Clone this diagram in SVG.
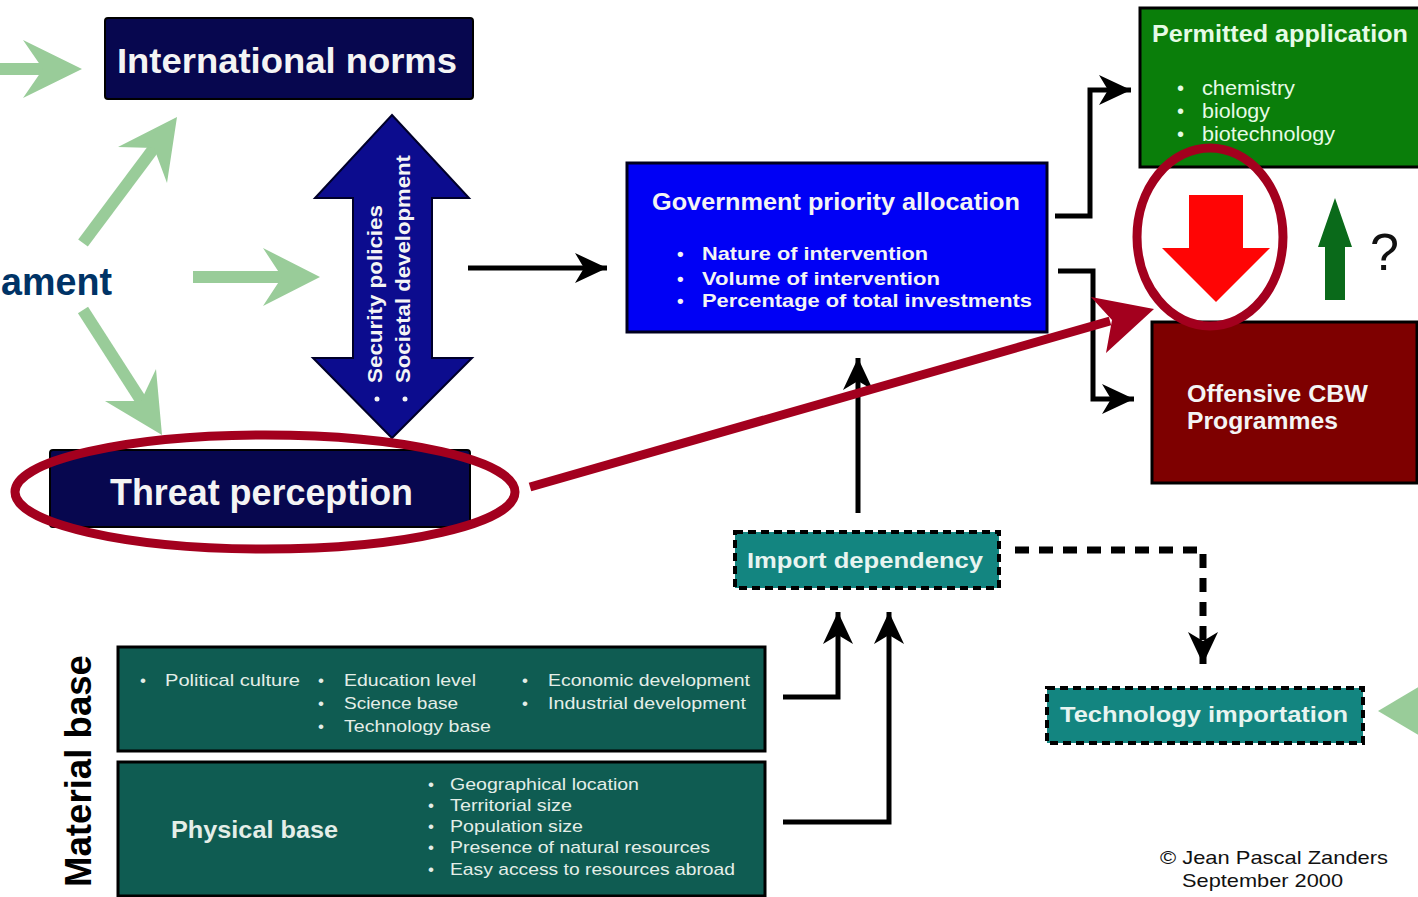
<svg xmlns="http://www.w3.org/2000/svg" width="1418" height="897" viewBox="0 0 1418 897">
<style>
.t{font-family:"Liberation Sans",Arial,sans-serif;}
.b{font-weight:bold;}
.w{fill:#f4f4f4;}
.navy{fill:#07074f;stroke:#000000;stroke-width:2;}
.teal{fill:#0f5c52;stroke:#000000;stroke-width:3;}
.imp{fill:#138580;stroke:#000000;stroke-width:4;stroke-dasharray:8 5;}
.blk{fill:none;stroke:#000;stroke-width:5;}
.grn{stroke:#99cc99;stroke-width:12;fill:none;}
.grnh{fill:#99cc99;}
.ring{fill:none;stroke:#a3001e;stroke-width:9;}
</style>
<defs>
<marker id="ah" markerUnits="userSpaceOnUse" markerWidth="34" markerHeight="32" refX="32" refY="15" orient="auto" viewBox="0 0 34 32">
<path d="M0,0 L32,15 L0,30 L9,15 z" fill="#000"/>
</marker>
</defs>
<rect width="1418" height="897" fill="#ffffff"/>

<g id="label-ament">
<text class="t b" x="1" y="295" font-size="39" fill="#003366" textLength="111" lengthAdjust="spacingAndGlyphs">ament</text>
</g>

<g id="material-base-label">
<text class="t b" font-size="36" fill="#000" transform="translate(91,887) rotate(-90)" textLength="232" lengthAdjust="spacingAndGlyphs">Material base</text>
</g>

<g id="international-norms">
<rect class="navy" x="105" y="18" width="368" height="81" rx="3"/>
<text class="t b w" x="117" y="73" font-size="35" textLength="340" lengthAdjust="spacingAndGlyphs">International norms</text>
</g>

<g id="security-arrow">
<polygon points="392,115 469,198 432,198 432,358 472,358 392,438 313,358 353,358 353,198 315,198" fill="#0c0c8e" stroke="#00002a" stroke-width="2"/>
<text class="t b w" font-size="20" transform="translate(382,383) rotate(-90)" textLength="178" lengthAdjust="spacingAndGlyphs">Security policies</text>
<text class="t b w" font-size="20" transform="translate(410,383) rotate(-90)" textLength="228" lengthAdjust="spacingAndGlyphs">Societal development</text>
<circle cx="377" cy="399" r="2.5" fill="#f4f4f4"/>
<circle cx="405" cy="399" r="2.5" fill="#f4f4f4"/>
</g>

<g id="threat-perception">
<rect class="navy" x="50" y="450" width="420" height="77" rx="3"/>
<text class="t b w" x="110" y="505" font-size="36" textLength="303" lengthAdjust="spacingAndGlyphs">Threat perception</text>
</g>

<g id="government">
<rect x="627" y="163" width="420" height="169" fill="#0000f5" stroke="#000020" stroke-width="3"/>
<text class="t b w" x="652" y="210" font-size="24" textLength="368" lengthAdjust="spacingAndGlyphs">Government priority allocation</text>
<g class="t b w" font-size="19">
<text x="677" y="260">•</text>
<text x="702" y="260" textLength="226" lengthAdjust="spacingAndGlyphs">Nature of intervention</text>
<text x="677" y="285">•</text>
<text x="702" y="285" textLength="238" lengthAdjust="spacingAndGlyphs">Volume of intervention</text>
<text x="677" y="307">•</text>
<text x="702" y="307" textLength="330" lengthAdjust="spacingAndGlyphs">Percentage of total investments</text>
</g>
</g>

<g id="permitted-application">
<rect x="1140" y="8" width="290" height="159" fill="#0a7e0a" stroke="#000" stroke-width="3"/>
<text class="t b" x="1152" y="42" font-size="24" fill="#e6fbe6" textLength="256" lengthAdjust="spacingAndGlyphs">Permitted application</text>
<g class="t" font-size="20" fill="#e6fbe6">
<text x="1177" y="95">•</text>
<text x="1202" y="95" textLength="93" lengthAdjust="spacingAndGlyphs">chemistry</text>
<text x="1177" y="118">•</text>
<text x="1202" y="118" textLength="68" lengthAdjust="spacingAndGlyphs">biology</text>
<text x="1177" y="141">•</text>
<text x="1202" y="141" textLength="133" lengthAdjust="spacingAndGlyphs">biotechnology</text>
</g>
</g>

<g id="shift-arrows">
<polygon points="1189,195 1243,195 1243,248 1270,248 1216,302 1162,248 1189,248" fill="#ff0505"/>
<polygon points="1335,198 1352,247 1345,247 1345,300 1325,300 1325,247 1318,247" fill="#0a6a1a"/>
<text class="t" x="1370" y="270" font-size="52" fill="#111">?</text>
</g>

<g id="offensive-cbw">
<rect x="1152" y="322" width="265" height="161" fill="#7e0000" stroke="#000" stroke-width="3"/>
<text class="t b w" x="1187" y="402" font-size="24" textLength="181" lengthAdjust="spacingAndGlyphs">Offensive CBW</text>
<text class="t b w" x="1187" y="429" font-size="24" textLength="151" lengthAdjust="spacingAndGlyphs">Programmes</text>
</g>

<g id="import-dependency">
<rect class="imp" x="735" y="532" width="264" height="56"/>
<text class="t b" x="747" y="568" font-size="22" fill="#e8f4f0" textLength="236" lengthAdjust="spacingAndGlyphs">Import dependency</text>
</g>

<g id="technology-importation">
<rect class="imp" x="1047" y="688" width="316" height="55"/>
<text class="t b" x="1060" y="722" font-size="22" fill="#e8f4f0" textLength="288" lengthAdjust="spacingAndGlyphs">Technology importation</text>
</g>

<g id="social-base">
<rect class="teal" x="118" y="647" width="647" height="104"/>
<g class="t" font-size="17" fill="#e4eee8">
<text x="140" y="686">•</text>
<text x="165" y="686" textLength="135" lengthAdjust="spacingAndGlyphs">Political culture</text>
<text x="318" y="686">•</text>
<text x="344" y="686" textLength="132" lengthAdjust="spacingAndGlyphs">Education level</text>
<text x="318" y="709">•</text>
<text x="344" y="709" textLength="114" lengthAdjust="spacingAndGlyphs">Science base</text>
<text x="318" y="732">•</text>
<text x="344" y="732" textLength="147" lengthAdjust="spacingAndGlyphs">Technology base</text>
<text x="522" y="686">•</text>
<text x="548" y="686" textLength="202" lengthAdjust="spacingAndGlyphs">Economic development</text>
<text x="522" y="709">•</text>
<text x="548" y="709" textLength="198" lengthAdjust="spacingAndGlyphs">Industrial development</text>
</g>
</g>

<g id="physical-base">
<rect class="teal" x="118" y="762" width="647" height="134"/>
<text class="t b" x="171" y="838" font-size="24" fill="#e4eee8" textLength="167" lengthAdjust="spacingAndGlyphs">Physical base</text>
<g class="t" font-size="17" fill="#e4eee8">
<text x="428" y="790">•</text>
<text x="450" y="790" textLength="189" lengthAdjust="spacingAndGlyphs">Geographical location</text>
<text x="428" y="811">•</text>
<text x="450" y="811" textLength="122" lengthAdjust="spacingAndGlyphs">Territorial size</text>
<text x="428" y="832">•</text>
<text x="450" y="832" textLength="133" lengthAdjust="spacingAndGlyphs">Population size</text>
<text x="428" y="853">•</text>
<text x="450" y="853" textLength="260" lengthAdjust="spacingAndGlyphs">Presence of natural resources</text>
<text x="428" y="875">•</text>
<text x="450" y="875" textLength="285" lengthAdjust="spacingAndGlyphs">Easy access to resources abroad</text>
</g>
</g>

<g id="copyright">
<text class="t" x="1160" y="864" font-size="19" fill="#111" textLength="228" lengthAdjust="spacingAndGlyphs">© Jean Pascal Zanders</text>
<text class="t" x="1182" y="887" font-size="19" fill="#111" textLength="161" lengthAdjust="spacingAndGlyphs">September 2000</text>
</g>

<g id="connectors">
<line class="grn" x1="0" y1="69" x2="46" y2="69"/>
<polygon class="grnh" points="82,69 23,40 43,69 23,98"/>
<line class="grn" x1="83" y1="243" x2="157" y2="144"/>
<polygon class="grnh" points="177,117 118,147 154,148 167,183"/>
<line class="grn" x1="193" y1="277" x2="286" y2="277"/>
<polygon class="grnh" points="320,277 263,248 282,277 263,306"/>
<line class="grn" x1="83" y1="310" x2="144" y2="405"/>
<polygon class="grnh" points="162,435 105,401 141,401 156,369"/>
<polygon class="grnh" points="1378,711 1420,686 1420,736"/>
<line class="blk" x1="468" y1="268" x2="607" y2="268" marker-end="url(#ah)"/>
<path class="blk" d="M1055,216 H1090 V90 H1131" marker-end="url(#ah)"/>
<path class="blk" d="M1058,271 H1093 V399 H1134" marker-end="url(#ah)"/>
<line class="blk" x1="858" y1="513" x2="858" y2="358" marker-end="url(#ah)"/>
<path class="blk" d="M783,697 H838 V612" marker-end="url(#ah)"/>
<path class="blk" d="M783,822 H889 V612" marker-end="url(#ah)"/>
<path d="M1015,550 H1203 V664" fill="none" stroke="#000" stroke-width="7" stroke-dasharray="14 10" marker-end="url(#ah)"/>
<line x1="530" y1="487" x2="1110" y2="321" stroke="#a3001e" stroke-width="9"/>
<polygon points="1154,309 1091,297 1112,320 1106,353" fill="#a3001e"/>
</g>

<g id="highlights">
<ellipse class="ring" cx="265" cy="492" rx="250" ry="57"/>
<ellipse class="ring" cx="1210" cy="237" rx="73" ry="89"/>
</g>
</svg>
